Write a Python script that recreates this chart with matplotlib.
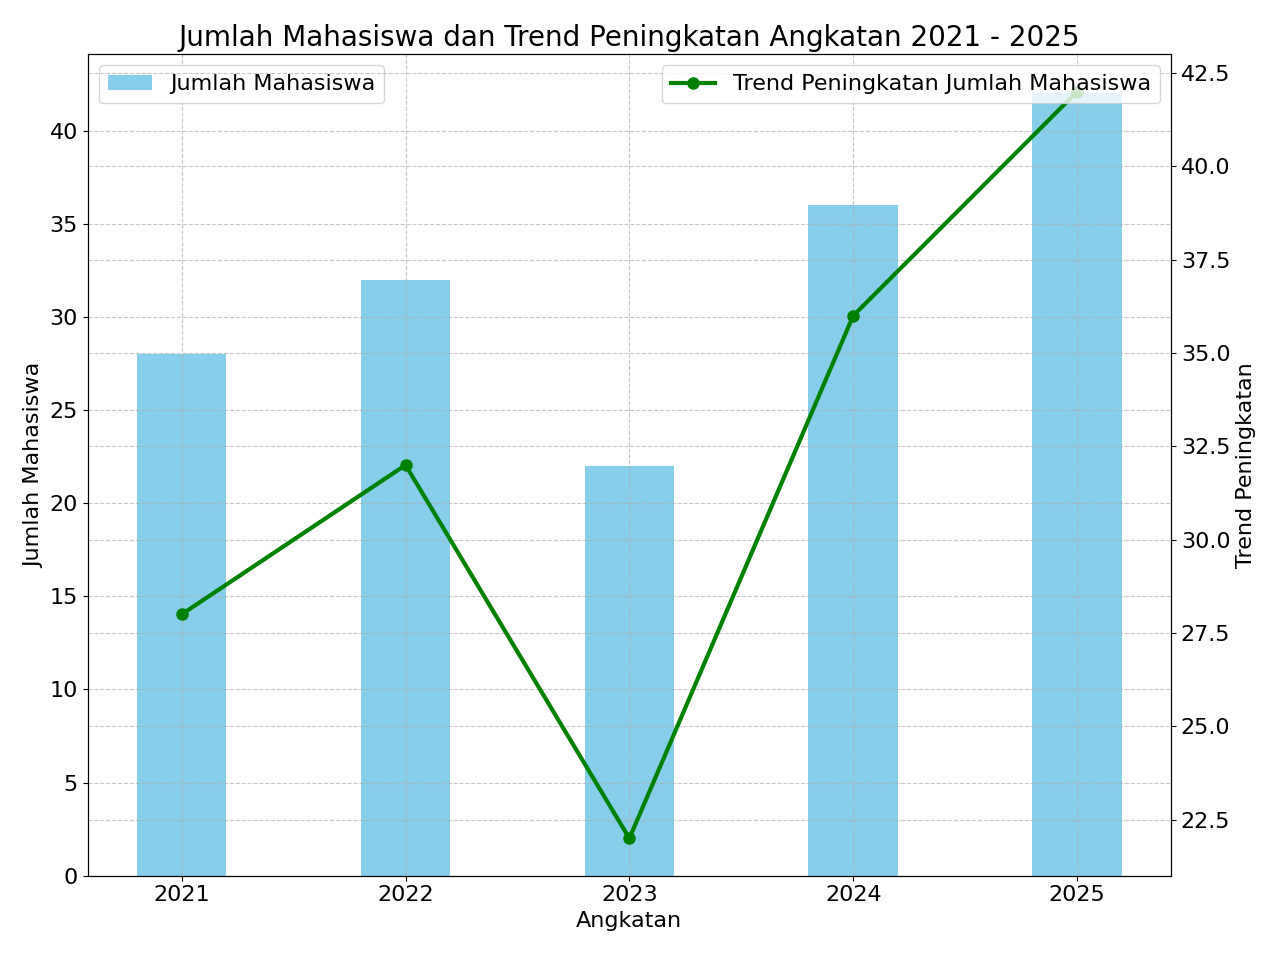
import matplotlib.pyplot as plt

angkatan = ['2021', '2022', '2023', '2024', '2025']
jumlah = [28, 32, 22, 36, 42]
trend = [28, 32, 22, 36, 42]

plt.rcParams['font.size'] = 16
fig, ax1 = plt.subplots(figsize=(12.8, 9.55), dpi=100)
x = range(len(angkatan))
ax1.bar(x, jumlah, width=0.4, color='skyblue', label='Jumlah Mahasiswa')
ax1.set_xticks(list(x))
ax1.set_xticklabels(angkatan)
ax1.set_xlabel('Angkatan')
ax1.set_ylabel('Jumlah Mahasiswa')
ax1.grid(True, linestyle='--', alpha=0.7)
ax1.legend(loc='upper left')

ax2 = ax1.twinx()
ax2.plot(x, trend, color='green', marker='o', linewidth=3, markersize=8,
         label='Trend Peningkatan Jumlah Mahasiswa')
ax2.set_ylabel('Trend Peningkatan')
ax2.grid(True, linestyle='--', alpha=0.7)
ax2.legend(loc='upper right')

ax1.set_title('Jumlah Mahasiswa dan Trend Peningkatan Angkatan 2021 - 2025', fontsize=20)
fig.tight_layout()
fig.savefig('out.png')
